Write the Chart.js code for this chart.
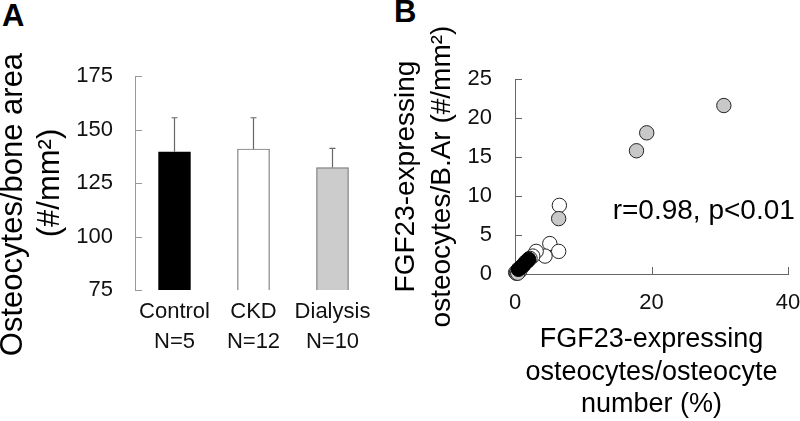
<!DOCTYPE html>
<html>
<head>
<meta charset="utf-8">
<script src="https://cdn.jsdelivr.net/npm/chart.js@4"></script>
<style>
	body { margin: 0; background: #fff; width: 800px; height: 421px; overflow: hidden; position: relative; font-family: "Liberation Sans", Arial, sans-serif; }
	canvas { position: absolute; top: 0; }
	#chartA { left: 0; }
	#chartB { left: 392px; }
	.panel { position: absolute; font-weight: bold; font-size: 31px; line-height: 30px; color: #000; }
</style>
</head>
<body>
<div class="panel" style="left:2px;top:1px">A</div>
<div class="panel" style="left:394px;top:-3px">B</div>
<canvas id="chartA" width="400" height="421"></canvas>
<canvas id="chartB" width="408" height="421"></canvas>
<script>
const FONT = '"Liberation Sans", Arial, sans-serif';

// panel A
const groups = [['Control', 'N=5'], ['CKD', 'N=12'], ['Dialysis', 'N=10']];
const osteocyteMeans = [139.6, 140.9, 132.2];
const osteocyteSD = [15.9, 14.6, 9.0];
const barTicks = [75, 100, 125, 150, 175];

// panel B, [x, y] pairs
const controlPts = [[0.5, 0.6], [0.9, 0.9], [1.3, 1.2], [1.7, 1.6], [2.0, 1.9]];
const ckdPts = [[6.5, 8.8], [5.1, 3.9], [6.4, 2.9], [4.4, 2.3], [3.1, 2.9], [2.6, 2.3], [2.2, 2.0],
	[1.9, 1.7], [1.5, 1.5], [1.2, 1.1], [0.9, 0.8], [0.6, 0.5]];
const dialysisPts = [[30.6, 21.6], [19.3, 18.1], [17.8, 15.8], [6.4, 7.1], [0.1, 0.2],
	[0.3, 0.2], [0.5, 0.3], [0.7, 0.4], [0.2, 0.1], [0.4, 0.1]];
const scatterXTicks = [0, 20, 40];
const scatterYTicks = [0, 5, 10, 15, 20, 25];
const statText = 'r=0.98, p<0.01';

const toXY = pts => pts.map(([x, y]) => ({ x, y }));
const useTicks = list => s => { s.ticks = list.map(v => ({ value: v })); };
// fixed axis box, no extra room for overhanging labels
const fixSize = (w, h) => s => {
	if (w) s.width = w;
	if (h) s.height = h;
	s.paddingLeft = s.paddingRight = s.paddingTop = s.paddingBottom = 0;
};

// short tick marks pointing into the plot
const inTicks = {
	id: 'inTicks',
	beforeDatasetsDraw(chart, args, opts) {
		const ctx = chart.ctx, area = chart.chartArea;
		ctx.save();
		ctx.strokeStyle = opts.color;
		ctx.lineWidth = 1;
		ctx.beginPath();
		for (const id of opts.axes) {
			const s = chart.scales[id];
			for (const t of s.ticks) {
				const p = Math.round(s.getPixelForValue(t.value)) + 0.5;
				if (id === 'y') { ctx.moveTo(area.left, p); ctx.lineTo(area.left + opts.len, p); }
				else { ctx.moveTo(p, area.bottom); ctx.lineTo(p, area.bottom - opts.len); }
			}
		}
		ctx.stroke();
		ctx.restore();
	}
};

const errBars = {
	id: 'errBars',
	afterDatasetsDraw(chart) {
		const ctx = chart.ctx, y = chart.scales.y;
		ctx.save();
		ctx.strokeStyle = '#666';
		ctx.lineWidth = 1.2;
		chart.getDatasetMeta(0).data.forEach((bar, i) => {
			const top = y.getPixelForValue(osteocyteMeans[i] + osteocyteSD[i]);
			ctx.beginPath();
			ctx.moveTo(bar.x, bar.y);
			ctx.lineTo(bar.x, top);
			ctx.moveTo(bar.x - 3, top);
			ctx.lineTo(bar.x + 3, top);
			ctx.stroke();
		});
		ctx.restore();
	}
};

const statLabel = {
	id: 'statLabel',
	afterDraw(chart) {
		const ctx = chart.ctx;
		ctx.save();
		ctx.font = '28px ' + FONT;
		ctx.fillStyle = '#000';
		ctx.textAlign = 'right';
		ctx.textBaseline = 'alphabetic';
		ctx.fillText(statText, chart.scales.x.getPixelForValue(41), chart.scales.y.getPixelForValue(7.0));
		ctx.restore();
	}
};

new Chart(document.getElementById('chartA'), {
	type: 'bar',
	data: {
		labels: groups,
		datasets: [{
			data: osteocyteMeans,
			backgroundColor: ['#000', '#fff', '#cccccc'],
			borderColor: ['#000', '#777', '#777'],
			borderWidth: 1.2,
			borderSkipped: false,
			barThickness: 32
		}]
	},
	options: {
		responsive: false, animation: false, events: [],
		layout: { padding: { left: 0, top: 76, right: 28, bottom: 0 } },
		plugins: { legend: { display: false }, tooltip: { enabled: false }, inTicks: { axes: ['y'], len: 7, color: '#999' } },
		scales: {
			x: {
				grid: { display: false, drawTicks: false }, border: { display: false },
				ticks: {
					color: '#111', padding: 7, autoSkip: false, maxRotation: 0, minRotation: 0,
					font: { size: 22, family: FONT, lineHeight: 1.36 }
				},
				afterFit: fixSize(0, 131)
			},
			y: {
				min: 75, max: 175,
				grid: { display: false, drawTicks: false }, border: { color: '#999' },
				afterBuildTicks: useTicks(barTicks),
				ticks: { color: '#111', padding: 22, font: { size: 22, family: FONT } },
				title: {
					display: true, color: '#000',
					text: ['Osteocytes/bone area     ', '(#/mm²)'],
					font: { size: 31, family: FONT, lineHeight: 1.2 },
					padding: { top: -5, bottom: 0 }
				},
				afterFit: fixSize(135, 0)
			}
		}
	},
	plugins: [inTicks, errBars]
});

const pointStyle = { pointRadius: 7.2, borderWidth: 1, clip: false };

new Chart(document.getElementById('chartB'), {
	type: 'scatter',
	data: {
		datasets: [
			{ label: 'Control', data: toXY(controlPts), backgroundColor: '#000', borderColor: '#000', order: 1, ...pointStyle },
			{ label: 'Dialysis', data: toXY(dialysisPts), backgroundColor: '#c8c8c8', borderColor: '#222', order: 2, ...pointStyle },
			{ label: 'CKD', data: toXY(ckdPts), backgroundColor: '#fff', borderColor: '#222', order: 3, ...pointStyle }
		]
	},
	options: {
		responsive: false, animation: false, events: [],
		layout: { padding: { left: 0, top: 79, right: 12, bottom: 0 } },
		plugins: { legend: { display: false }, tooltip: { enabled: false }, inTicks: { axes: ['x', 'y'], len: 7, color: '#666' } },
		scales: {
			x: {
				type: 'linear', min: 0, max: 40,
				grid: { display: false, drawTicks: false }, border: { color: '#666' },
				afterBuildTicks: useTicks(scatterXTicks),
				ticks: { color: '#111', padding: 16, maxRotation: 0, font: { size: 22, family: FONT } },
				title: {
					display: true, color: '#000',
					text: ['FGF23-expressing', 'osteocytes/osteocyte', 'number (%)'],
					font: { size: 27, family: FONT, lineHeight: 1.2 },
					padding: { top: 0, bottom: 0 }
				},
				afterFit: fixSize(0, 147)
			},
			y: {
				min: 0, max: 25,
				grid: { display: false, drawTicks: false }, border: { color: '#666' },
				afterBuildTicks: useTicks(scatterYTicks),
				ticks: { color: '#111', padding: 23, font: { size: 22, family: FONT } },
				title: {
					display: true, color: '#000',
					text: ['FGF23-expressing', 'osteocytes/B.Ar (#/mm²)'],
					font: { size: 28, family: FONT, lineHeight: 1.29 },
					padding: { top: -4, bottom: 0 }
				},
				afterFit: fixSize(123, 0)
			}
		}
	},
	plugins: [inTicks, statLabel]
});
</script>
</body>
</html>
